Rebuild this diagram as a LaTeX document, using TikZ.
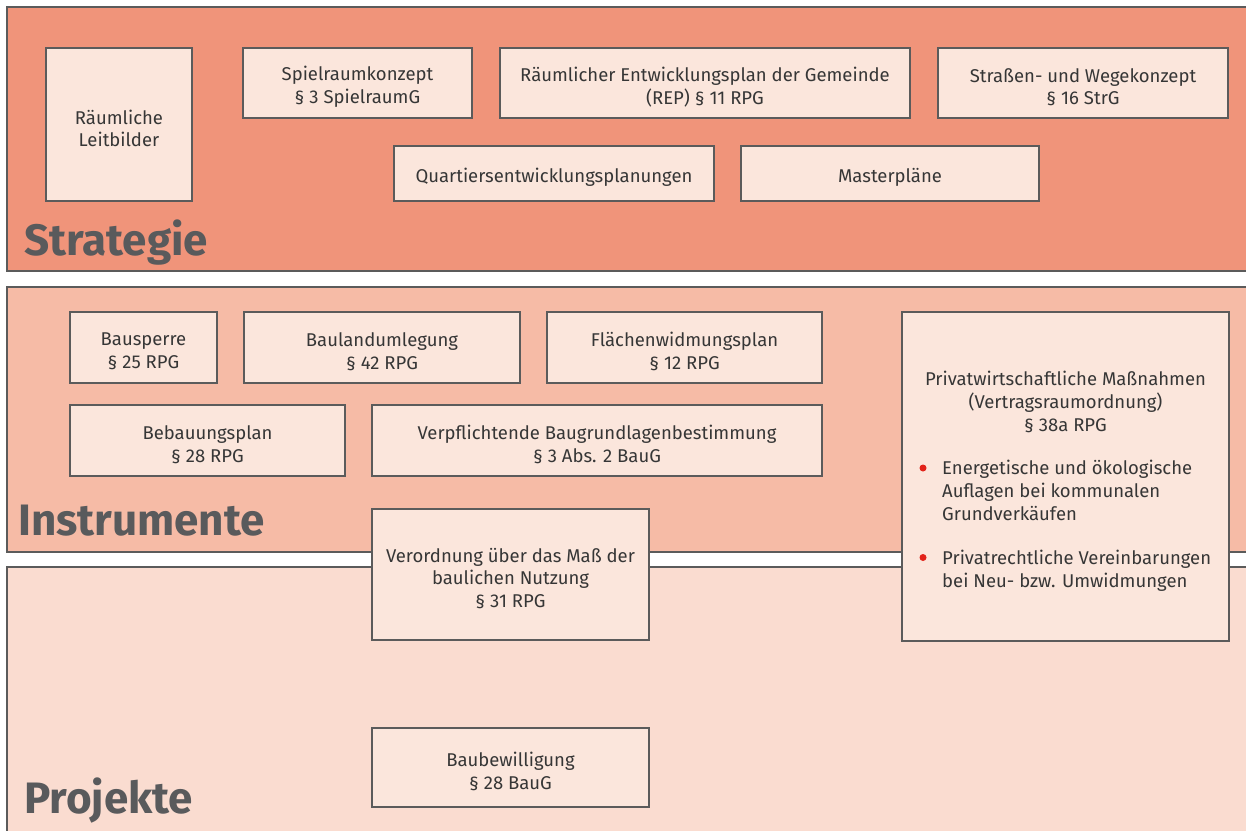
\documentclass[tikz,border=0pt]{standalone}
\usepackage{fontspec}
\setmainfont{Fira Sans}
\definecolor{strat}{HTML}{F0947A}
\definecolor{instr}{HTML}{F6BBA6}
\definecolor{proj}{HTML}{FADCD0}
\definecolor{boxfill}{HTML}{FBE6DC}
\definecolor{edge}{HTML}{5B5B5B}
\definecolor{txt}{HTML}{363636}
\definecolor{title}{HTML}{595A5C}
\definecolor{bul}{HTML}{E2231A}
\tikzset{
  layer/.style={draw=edge, line width=2.4pt},
  ibox/.style={draw=edge, line width=2.4pt, fill=boxfill, inner sep=0pt},
  btext/.style={text=txt, align=center, inner sep=0pt, font=\fontsize{18.5}{22.5}\selectfont},
  ltitle/.style={anchor=base west, text=title, inner sep=0pt,
    font=\fontsize{44}{44}\selectfont\bfseries},
  ptext/.style={text=txt, inner sep=0pt, font=\fontsize{18.5}{23}\selectfont},
  bullet/.style={circle, fill=bul, inner sep=0pt, minimum size=7pt}
}
\newcommand{\bx}[6]{\node[ibox, minimum width=#4pt, minimum height=#5pt] (#1) at (#2,#3) {};
  \node[btext] (#1-t) at ([yshift=-4pt]#1.center) {#6};}
\begin{document}
\begin{tikzpicture}[x=1pt,y=-1pt]
\useasboundingbox (0,0) rectangle (1246,830);
\clip (0,0) rectangle (1246,830);
\fill[white] (0,0) rectangle (1246,830);
% layers
\draw[layer, fill=strat] (7,7) rectangle (1260,271);
\draw[layer, fill=instr] (7,287) rectangle (1260,552);
\draw[layer, fill=proj] (7,567) rectangle (1260,845);
\node[ltitle] (tstrat) at (24,255) {Strategie};
\node[ltitle] (tinstr) at (18,535) {Instrumente};
\node[ltitle] (tproj) at (24,813) {Projekte};
% Strategie
\bx{leit}{119}{124.5}{146}{153}{Räumliche\\Leitbilder}
\bx{spiel}{357.5}{83}{229}{70}{Spielraumkonzept\\§ 3 SpielraumG}
\bx{rep}{705}{83}{410}{70}{Räumlicher Entwicklungsplan der Gemeinde\\(REP) § 11 RPG}
\bx{strassen}{1083}{83}{290}{70}{Straßen- und Wegekonzept\\§ 16 StrG}
\bx{quart}{554}{173.5}{320}{55}{Quartiersentwicklungsplanungen}
\bx{master}{890}{173.5}{298}{55}{Masterpläne}
% Instrumente
\bx{bausperre}{143.5}{347.5}{147}{71}{Bausperre\\§ 25 RPG}
\bx{bauland}{382}{347.5}{276}{71}{Baulandumlegung\\§ 42 RPG}
\bx{fwp}{684.5}{347.5}{275}{71}{Flächenwidmungsplan\\§ 12 RPG}
\bx{bebau}{207.5}{440.5}{275}{71}{Bebauungsplan\\§ 28 RPG}
\bx{verpf}{597}{440.5}{450}{71}{Verpflichtende Baugrundlagenbestimmung\\§ 3 Abs. 2 BauG}
\node[ibox, minimum width=327pt, minimum height=329pt] (priv) at (1065.5,476.5) {};
\node[ptext, align=center] (privhead) at (1065.5,401.5) {Privatwirtschaftliche Maßnahmen\\(Vertragsraumordnung)\\§ 38a RPG};
\node[bullet] (b1) at (923,468) {};
\node[ptext, align=left, anchor=north west] (item1) at (942,459.5) {Energetische und ökologische\\Auflagen bei kommunalen\\Grundverkäufen};
\node[bullet] (b2) at (923,557.5) {};
\node[ptext, align=left, anchor=north west] (item2) at (942,549.5) {Privatrechtliche Vereinbarungen\\bei Neu- bzw. Umwidmungen};
\bx{verord}{510.5}{574.5}{277}{131}{Verordnung über das Maß der\\baulichen Nutzung\\§ 31 RPG}
% Projekte
\bx{baubew}{510.5}{767.5}{277}{79}{Baubewilligung\\§ 28 BauG}
\end{tikzpicture}
\end{document}
